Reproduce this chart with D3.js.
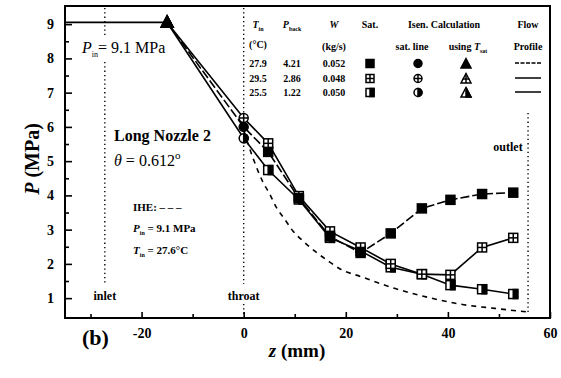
<!DOCTYPE html>
<html>
<head>
<meta charset="utf-8">
<script src="https://cdn.jsdelivr.net/npm/d3@7"></script>
<style>
  body { margin: 0; background: #fff; }
  svg { display: block; font-family: "Liberation Serif", "DejaVu Serif", serif; }
</style>
</head>
<body>
<svg id="chart" width="561" height="378"></svg>
<script>
// ---- data ----
const pInlet = 9.05;
const zInlet = [-35, -15];
const zThroat = 0;
const pThroat = [6.0, 6.26, 5.67];           // filled, crossed, half
const zSquares = [4.8, 10.8, 16.9, 22.9, 28.8, 34.9, 40.5, 46.7, 52.8];
const pFilled  = [5.27, 3.92, 2.80, 2.32, 2.89, 3.62, 3.87, 4.04, 4.08];
const pCrossed = [5.52, 3.98, 2.95, 2.48, 2.00, 1.70, 1.68, 2.48, 2.76];
const pHalf    = [4.74, 3.88, 2.76, 2.38, 1.90, 1.70, 1.38, 1.26, 1.12];

// IHE prediction (dashed)
const zIHE = [0, 1.8, 3.8, 5.1, 6.4, 8.0, 9.6, 11.9, 14.2, 16.4, 18.8, 23.1, 29.7, 36.2, 42.6, 49.2, 55.4];
const pIHE = [5.9, 5.1, 4.38, 4.04, 3.65, 3.31, 2.97, 2.63, 2.34, 2.10, 1.86, 1.62, 1.28, 1.02, 0.82, 0.70, 0.60];

// legend table
const tIn   = ["27.9", "29.5", "25.5"];
const pBack = ["4.21", "2.86", "1.22"];
const flowW = ["0.052", "0.048", "0.050"];
const styles = ["filled", "crossed", "half"];

const xTicks = [-20, 0, 20, 40, 60];
const xMinor = [-30, -10, 10, 30, 50];
const yTicks = [1, 2, 3, 4, 5, 6, 7, 8, 9];
const yMinor = [1.5, 2.5, 3.5, 4.5, 5.5, 6.5, 7.5, 8.5];

const zInletLine = -27.2, zOutletLine = 55.7;

// ---- layout ----
const W = 561, H = 378;
const m = { left: 65, right: 11, top: 6, bottom: 60 };
const svg = d3.select('#chart');

const x = d3.scaleLinear().domain([-35, 60]).range([m.left, W - m.right]);
const y = d3.scaleLinear().domain([0.42, 9.53]).range([H - m.bottom, m.top]);

// axes (ticks point inward)
svg.append('g').attr('transform', `translate(0,${H - m.bottom})`)
  .call(d3.axisBottom(x).tickValues(xTicks).tickSize(-6).tickPadding(10).tickFormat(d => String(d)));
svg.append('g').attr('transform', `translate(0,${H - m.bottom})`)
  .call(d3.axisBottom(x).tickValues(xMinor).tickSize(-4).tickFormat(''));
svg.append('g').attr('transform', `translate(${m.left},0)`)
  .call(d3.axisLeft(y).tickValues(yTicks).tickSize(-7).tickPadding(11));
svg.append('g').attr('transform', `translate(${m.left},0)`)
  .call(d3.axisLeft(y).tickValues(yMinor).tickSize(-4).tickFormat(''));
svg.selectAll('.domain').remove();
svg.selectAll('.tick line').attr('stroke', '#000').attr('stroke-width', 1.6);
svg.selectAll('.tick text').attr('font-family', '"Liberation Serif", serif')
  .attr('font-weight', 'bold').attr('font-size', 14).attr('fill', '#000');

// frame
svg.append('rect').attr('x', m.left).attr('y', m.top)
  .attr('width', W - m.left - m.right).attr('height', H - m.top - m.bottom)
  .attr('fill', 'none').attr('stroke', '#000').attr('stroke-width', 2);

// dotted location lines
const dotted = (z, y0, y1) => svg.append('line')
  .attr('x1', x(z)).attr('x2', x(z)).attr('y1', y0).attr('y2', y1)
  .attr('stroke', '#000').attr('stroke-width', 1.4).attr('stroke-dasharray', '1.3,3');
dotted(zInletLine, 8, 36); dotted(zInletLine, 62, 283);
dotted(zThroat, 8, 284); dotted(zThroat, 304, 316);
dotted(zOutletLine, 113, 312);

// lines
const line = d3.line().x(d => x(d[0])).y(d => y(d[1]));
const seriesP = [pFilled, pCrossed, pHalf];
svg.append('path')
  .attr('d', line(zInlet.map(z => [z, pInlet])))
  .attr('fill', 'none').attr('stroke', '#000').attr('stroke-width', 1.8);
svg.append('path')
  .attr('d', d3.line().curve(d3.curveMonotoneX).x(d => x(d[0])).y(d => y(d[1]))(zIHE.map((z, i) => [z, pIHE[i]])))
  .attr('fill', 'none').attr('stroke', '#000').attr('stroke-width', 1.6).attr('stroke-dasharray', '5,5');
seriesP.forEach((ps, k) => {
  const pts = [[zInlet[1], pInlet], [zThroat, pThroat[k]]].concat(zSquares.map((z, i) => [z, ps[i]]));
  svg.append('path').attr('d', line(pts))
    .attr('fill', 'none').attr('stroke', '#000').attr('stroke-width', 1.6)
    .attr('stroke-dasharray', k === 0 ? '9,3' : null);
});

// markers
function marker(g, shape, style, cx, cy, s) {
  const h = s / 2;
  const gg = g.append('g').attr('transform', `translate(${cx},${cy})`)
    .attr('stroke', '#000').attr('stroke-width', 1.5);
  if (shape === 'square') {
    gg.append('rect').attr('x', -h).attr('y', -h).attr('width', s).attr('height', s)
      .attr('fill', style === 'filled' ? '#000' : '#fff');
    if (style === 'crossed') {
      gg.append('line').attr('x1', -h).attr('x2', h).attr('y1', 0).attr('y2', 0);
      gg.append('line').attr('x1', 0).attr('x2', 0).attr('y1', -h).attr('y2', h);
    }
    if (style === 'half') gg.append('rect').attr('x', 0).attr('y', -h).attr('width', h).attr('height', s).attr('fill', '#000');
  } else if (shape === 'circle') {
    gg.append('circle').attr('r', h).attr('fill', style === 'filled' ? '#000' : '#fff');
    if (style === 'crossed') {
      gg.append('line').attr('x1', -h).attr('x2', h).attr('y1', 0).attr('y2', 0);
      gg.append('line').attr('x1', 0).attr('x2', 0).attr('y1', -h).attr('y2', h);
    }
    if (style === 'half') gg.append('path').attr('d', `M0,${-h}A${h},${h} 0 0 1 0,${h}Z`).attr('fill', '#000');
  } else {
    const t = [[0, -h * 1.1], [h, h * 0.8], [-h, h * 0.8]];
    gg.append('polygon').attr('points', t.join(' ')).attr('fill', style === 'filled' ? '#000' : '#fff');
    if (style === 'crossed') {
      gg.append('line').attr('x1', 0).attr('x2', 0).attr('y1', -h * 1.1).attr('y2', h * 0.8);
      gg.append('line').attr('x1', -h * 0.7).attr('x2', h * 0.7).attr('y1', 0).attr('y2', 0);
    }
    if (style === 'half') gg.append('polygon').attr('points', [[0, -h * 1.1], [h, h * 0.8], [0, h * 0.8]].join(' ')).attr('fill', '#000');
  }
}

const mk = svg.append('g');
[2, 1, 0].forEach(k => {
  marker(mk, 'circle', styles[k], x(zThroat), y(pThroat[k]), 9);
  zSquares.forEach((z, i) => marker(mk, 'square', styles[k], x(z), y(seriesP[k][i]), 9));
});
[2, 1, 0].forEach(k => marker(mk, 'triangle', styles[k], x(zInlet[1]), y(pInlet), 12));

// legend table
const lg = svg.append('g').attr('font-weight', 'bold').attr('font-size', 10).attr('text-anchor', 'middle');
const col = { t: 258, p: 292, w: 334, sat: 370, cir: 418, tri: 466, flow: 528 };
const rowY = [67, 82, 96];
const hdr1 = 28, hdr2 = 50;
lg.append('text').attr('x', col.t).attr('y', hdr1).html('<tspan font-style="italic">T</tspan><tspan font-size="6" dy="3">in</tspan>');
lg.append('text').attr('x', col.t).attr('y', hdr2 - 2).text('(°C)');
lg.append('text').attr('x', col.p).attr('y', hdr1).html('<tspan font-style="italic">P</tspan><tspan font-size="6" dy="3">back</tspan>');
lg.append('text').attr('x', col.w).attr('y', hdr1).attr('font-style', 'italic').text('W');
lg.append('text').attr('x', col.w).attr('y', hdr2).text('(kg/s)');
lg.append('text').attr('x', col.sat).attr('y', hdr1).text('Sat.');
lg.append('text').attr('x', 444).attr('y', hdr1).text('Isen. Calculation');
lg.append('text').attr('x', 412).attr('y', hdr2).text('sat. line');
lg.append('text').attr('x', 468).attr('y', hdr2).html('using <tspan font-style="italic">T</tspan><tspan font-size="6" dy="3">sat</tspan>');
lg.append('text').attr('x', col.flow).attr('y', hdr1).text('Flow');
lg.append('text').attr('x', col.flow).attr('y', hdr2).text('Profile');
styles.forEach((st, k) => {
  const ry = rowY[k];
  lg.append('text').attr('x', col.t).attr('y', ry).text(tIn[k]);
  lg.append('text').attr('x', col.p).attr('y', ry).text(pBack[k]);
  lg.append('text').attr('x', col.w).attr('y', ry).text(flowW[k]);
  marker(lg, 'square', st, col.sat, ry - 3.5, 8);
  marker(lg, 'circle', st, col.cir, ry - 3.5, 8);
  marker(lg, 'triangle', st, col.tri, ry - 3, 10);
  lg.append('line').attr('x1', col.flow - 13).attr('x2', col.flow + 13).attr('y1', ry - 4).attr('y2', ry - 4)
    .attr('stroke', '#000').attr('stroke-width', 1.5).attr('stroke-dasharray', k === 0 ? '4,1.5' : null);
});

// annotations
const ann = svg.append('g').attr('fill', '#000');
ann.append('text').attr('x', 82).attr('y', 53).attr('font-size', 16)
  .html('<tspan font-style="italic">P</tspan><tspan font-size="8" dy="4">in</tspan><tspan dy="-4">= 9.1 MPa</tspan>');
ann.append('text').attr('x', 114).attr('y', 141).attr('font-size', 16).attr('font-weight', 'bold').text('Long Nozzle 2');
ann.append('text').attr('x', 114).attr('y', 166).attr('font-size', 16)
  .html('<tspan font-style="italic">θ</tspan> = 0.612<tspan font-size="11" dy="-7">o</tspan>');
const ihe = ann.append('g').attr('font-size', 11).attr('font-weight', 'bold');
ihe.append('text').attr('x', 133).attr('y', 211).text('IHE:  – – –');
ihe.append('text').attr('x', 133).attr('y', 232)
  .html('<tspan font-style="italic">P</tspan><tspan font-size="6" dy="3">in</tspan><tspan dy="-3"> = 9.1 MPa</tspan>');
ihe.append('text').attr('x', 133).attr('y', 254)
  .html('<tspan font-style="italic">T</tspan><tspan font-size="6" dy="3">in</tspan><tspan dy="-3"> = 27.6°C</tspan>');
const loc = ann.append('g').attr('font-size', 12).attr('font-weight', 'bold').attr('text-anchor', 'middle');
loc.append('text').attr('x', x(zInletLine)).attr('y', 300).text('inlet');
loc.append('text').attr('x', x(zThroat)).attr('y', 300).text('throat');
loc.append('text').attr('x', 508).attr('y', 151).text('outlet');

ann.append('text').attr('x', 82).attr('y', 345).attr('font-size', 22).attr('font-weight', 'bold').text('(b)');
ann.append('text').attr('x', 297).attr('y', 357).attr('font-size', 19).attr('font-weight', 'bold')
  .attr('text-anchor', 'middle').html('<tspan font-style="italic">z</tspan> (mm)');
ann.append('text').attr('transform', 'translate(39,159) rotate(-90)').attr('font-size', 20)
  .attr('font-weight', 'bold').attr('text-anchor', 'middle')
  .html('<tspan font-style="italic">P</tspan> (MPa)');
</script>
</body>
</html>
